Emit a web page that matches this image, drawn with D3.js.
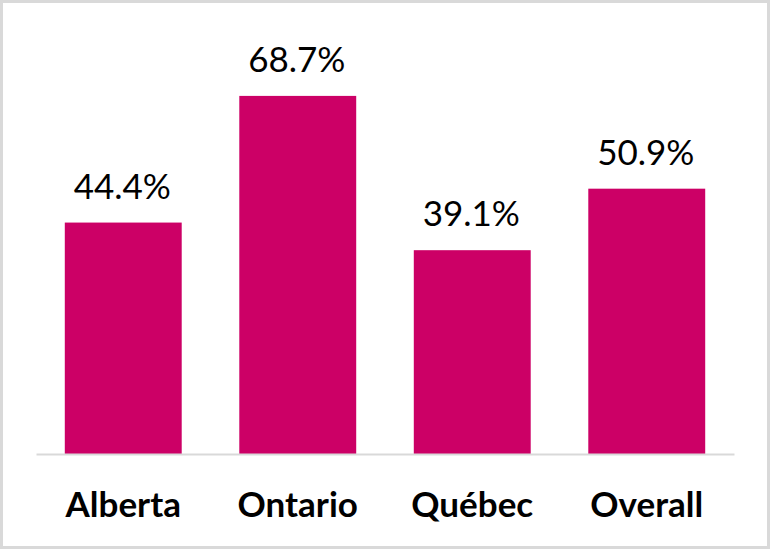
<!DOCTYPE html>
<html>
<head>
<meta charset="utf-8">
<script src="https://cdn.jsdelivr.net/npm/d3@7"></script>
<style>
  body { margin: 0; background: #fff; }
  svg { display: block; }
</style>
</head>
<body>
<div id="chart"></div>
<script>
(function(d3) {
  'use strict';

  // data
  var categories = ['Alberta', 'Ontario', 'Québec', 'Overall'];
  var values = [44.4, 68.7, 39.1, 50.9];

  var W = 770, H = 549;
  var barColor = '#cc0066';
  var gridColor = '#d9d9d9';

  var svg = d3.select('#chart').append('svg')
    .attr('width', W)
    .attr('height', H);

  // outer frame
  svg.append('rect')
    .attr('x', 1.5).attr('y', 1.5)
    .attr('width', W - 3).attr('height', H - 3)
    .attr('fill', '#fff')
    .attr('stroke', gridColor)
    .attr('stroke-width', 3);

  var x = d3.scaleBand()
    .domain(categories)
    .range([36, 734])
    .paddingInner(0.33)
    .paddingOuter(0.165);

  var y = d3.scaleLinear()
    .domain([0, 80])
    .range([454, 37]);

  // bars
  svg.selectAll('rect.bar')
    .data(values)
    .enter().append('rect')
    .attr('class', 'bar')
    .attr('x', function(d, i) { return x(categories[i]); })
    .attr('y', function(d) { return y(d); })
    .attr('width', x.bandwidth())
    .attr('height', function(d) { return y(0) - y(d); })
    .attr('fill', barColor);

  // baseline axis
  var xAxis = d3.axisBottom(x).tickSize(0).tickPadding(0).tickFormat('');
  var gx = svg.append('g').attr('transform', 'translate(0,' + y(0) + ')').call(xAxis);
  gx.select('.domain').attr('stroke', gridColor).attr('stroke-width', 2);

  // category labels
  svg.selectAll('text.cat')
    .data(categories)
    .enter().append('text')
    .attr('class', 'cat')
    .attr('x', function(d) { return x(d) + x.bandwidth() / 2; })
    .attr('y', 517)
    .attr('text-anchor', 'middle')
    .style('font-family', 'Lato, "Open Sans", sans-serif')
    .style('font-weight', 'bold')
    .style('font-size', '35px')
    .attr('fill', '#000')
    .text(function(d) { return d; });

  // value labels
  svg.selectAll('text.val')
    .data(values)
    .enter().append('text')
    .attr('class', 'val')
    .attr('x', function(d, i) { return x(categories[i]) + x.bandwidth() / 2 - 1; })
    .attr('y', function(d) { return y(d) - 24; })
    .attr('text-anchor', 'middle')
    .style('font-family', 'Lato, "Open Sans", sans-serif')
    .style('font-size', '35px')
    .attr('fill', '#000')
    .text(function(d) { return d.toFixed(1) + '%'; });
})(window.d3);
</script>
</body>
</html>
